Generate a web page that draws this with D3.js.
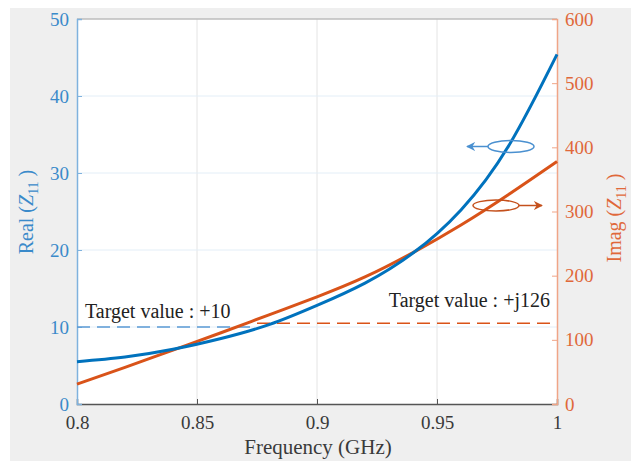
<!DOCTYPE html>
<html>
<head>
<meta charset="utf-8">
<script src="https://cdn.jsdelivr.net/npm/d3@7"></script>
<style>
body{margin:0;background:#fff;}
text{font-family:"Liberation Serif","Times New Roman",serif;}
</style>
</head>
<body>
<svg id="chart" width="631" height="461"></svg>
<script>
// donnees
var freq = [0.8, 0.82, 0.84, 0.86, 0.88, 0.9, 0.92, 0.94, 0.96, 0.98, 1.0];
var reZ = [5.5, 6.1, 7.1, 8.5, 10.3, 12.8, 15.7, 19.6, 25.2, 33.6, 45.4];
var imZ = [31, 57, 84, 111, 139, 167, 198, 236, 279, 327, 378];
var xTicks = [0.8, 0.85, 0.9, 0.95, 1];
var yTicksL = [0, 10, 20, 30, 40, 50];
var yTicksR = [0, 100, 200, 300, 400, 500, 600];
var cibleRe = 10, cibleIm = 126;
var fCible = 0.875;

var bleu = "#0072bd", orange = "#d95319";
var bleuTxt = "#3a8aca", orangeTxt = "#e0683a";

var svg = d3.select("#chart");
// fond gris
svg.append("rect").attr("x",10).attr("y",8).attr("width",621).attr("height",453).attr("fill","#efefef");

var m = {l:77, r:557, t:19, b:404};
var x = d3.scaleLinear().domain([0.8,1]).range([m.l,m.r]);
var yL = d3.scaleLinear().domain([0,50]).range([m.b,m.t]);
var yR = d3.scaleLinear().domain([0,600]).range([m.b,m.t]);

svg.append("rect").attr("x",m.l).attr("y",m.t).attr("width",m.r-m.l).attr("height",m.b-m.t).attr("fill","#fff");

// grille
svg.append("g").selectAll("line").data(xTicks.slice(1,-1)).enter().append("line")
	.attr("x1",d=>x(d)).attr("x2",d=>x(d)).attr("y1",m.t).attr("y2",m.b)
	.attr("stroke","#e4e4e4").attr("stroke-width",1);
svg.append("g").selectAll("line").data(yTicksL.slice(1,-1)).enter().append("line")
	.attr("x1",m.l).attr("x2",m.r).attr("y1",d=>yL(d)).attr("y2",d=>yL(d))
	.attr("stroke","#e3eef7").attr("stroke-width",1);

// cadre haut
svg.append("line").attr("x1",m.l).attr("x2",m.r).attr("y1",m.t).attr("y2",m.t).attr("stroke","#bdbdbd").attr("stroke-width",1.5);

// axes
var axB = svg.append("g").attr("transform","translate(0,"+m.b+")")
	.call(d3.axisBottom(x).tickValues(xTicks).tickFormat(d=>d==1?"1":d3.format("")(d)).tickSize(-5).tickPadding(12));
axB.select(".domain").attr("stroke","#555").attr("stroke-width",1.5);
axB.selectAll(".tick line").attr("stroke","#555");
axB.selectAll("text").attr("fill","#3a3a3a").attr("font-size",19).attr("font-family","Liberation Serif");

var axL = svg.append("g").attr("transform","translate("+m.l+",0)")
	.call(d3.axisLeft(yL).tickValues(yTicksL).tickSize(-5).tickPadding(8));
axL.select(".domain").attr("stroke","#7fb2de").attr("stroke-width",1.5);
axL.selectAll(".tick line").attr("stroke","#7fb2de");
axL.selectAll("text").attr("fill",bleuTxt).attr("font-size",19).attr("font-family","Liberation Serif");

var axR = svg.append("g").attr("transform","translate("+m.r+",0)")
	.call(d3.axisRight(yR).tickValues(yTicksR).tickSize(-5).tickPadding(8));
axR.select(".domain").attr("stroke","#f0a587").attr("stroke-width",1.5);
axR.selectAll(".tick line").attr("stroke","#f0a587");
axR.selectAll("text").attr("fill",orangeTxt).attr("font-size",19).attr("font-family","Liberation Serif");

// lignes cibles
svg.append("line").attr("x1",x(0.8)).attr("x2",x(fCible)).attr("y1",yL(cibleRe)).attr("y2",yL(cibleRe))
	.attr("stroke","#5b9bd5").attr("stroke-width",1.5).attr("stroke-dasharray","13,7");
svg.append("line").attr("x1",x(fCible)).attr("x2",x(1)).attr("y1",yR(cibleIm)).attr("y2",yR(cibleIm))
	.attr("stroke",orange).attr("stroke-width",1.5).attr("stroke-dasharray","13,7");

// courbes
var lineRe = d3.line().x((d,i)=>x(freq[i])).y(d=>yL(d)).curve(d3.curveNatural);
var lineIm = d3.line().x((d,i)=>x(freq[i])).y(d=>yR(d)).curve(d3.curveNatural);
svg.append("path").attr("d",lineIm(imZ)).attr("fill","none").attr("stroke",orange).attr("stroke-width",3);
svg.append("path").attr("d",lineRe(reZ)).attr("fill","none").attr("stroke",bleu).attr("stroke-width",3);

// textes
svg.append("text").attr("x",85).attr("y",318).attr("font-size",20).attr("fill","#222").text("Target value : +10");
svg.append("text").attr("x",550).attr("y",307).attr("text-anchor","end").attr("font-size",20).attr("fill","#222").text("Target value : +j126");

// marqueurs fleches
var defs = svg.append("defs");
[["fb","#4a90d0"],["fo","#c4501c"]].forEach(function(c){
	defs.append("marker").attr("id",c[0]).attr("viewBox","0 0 10 10").attr("refX",9).attr("refY",5)
		.attr("markerWidth",6).attr("markerHeight",6).attr("orient","auto")
		.append("path").attr("d","M0,0 L10,5 L0,10 L3,5 Z").attr("fill",c[1]);
});
svg.append("ellipse").attr("cx",511).attr("cy",146.5).attr("rx",23).attr("ry",6).attr("fill","none").attr("stroke","#4a90d0").attr("stroke-width",1.5);
svg.append("line").attr("x1",488).attr("x2",467).attr("y1",146.5).attr("y2",146.5).attr("stroke","#4a90d0").attr("stroke-width",1.5).attr("marker-end","url(#fb)");
svg.append("ellipse").attr("cx",496).attr("cy",205.5).attr("rx",23).attr("ry",5.5).attr("fill","none").attr("stroke","#c4501c").attr("stroke-width",1.5);
svg.append("line").attr("x1",519).attr("x2",542).attr("y1",205.5).attr("y2",205.5).attr("stroke","#c4501c").attr("stroke-width",1.5).attr("marker-end","url(#fo)");

// titres axes
svg.append("text").attr("x",318).attr("y",454).attr("text-anchor","middle").attr("font-size",21).attr("fill","#3a3a3a").text("Frequency (GHz)");
var tl = svg.append("text").attr("transform","translate(33,212) rotate(-90)").attr("text-anchor","middle").attr("font-size",20).attr("fill",bleuTxt);
tl.append("tspan").text("Real (");
tl.append("tspan").attr("font-style","italic").text("Z");
tl.append("tspan").attr("font-size",14).attr("dy",5).text("11");
tl.append("tspan").attr("dy",-5).text(" )");
var tr = svg.append("text").attr("transform","translate(621,218) rotate(-90)").attr("text-anchor","middle").attr("font-size",20).attr("fill",orangeTxt);
tr.append("tspan").text("Imag (");
tr.append("tspan").attr("font-style","italic").text("Z");
tr.append("tspan").attr("font-size",14).attr("dy",5).text("11");
tr.append("tspan").attr("dy",-5).text(" )");
</script>
</body>
</html>
